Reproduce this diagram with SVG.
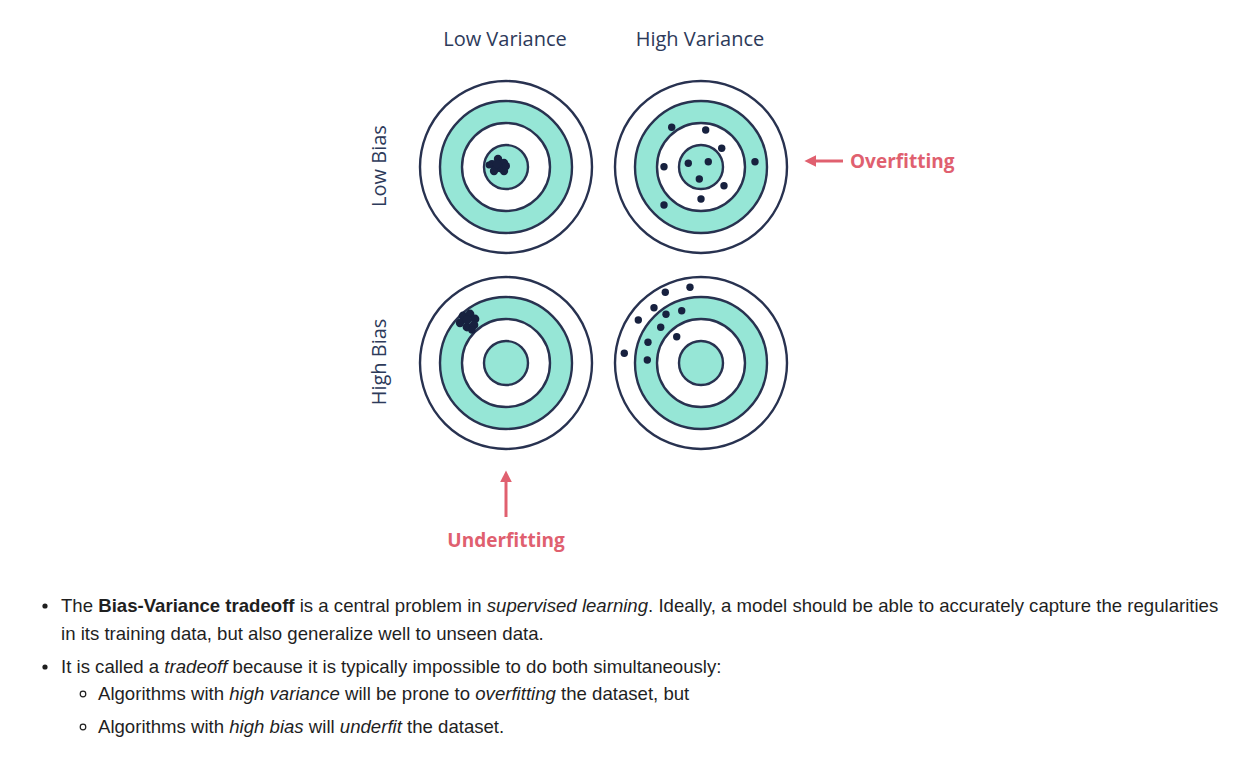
<svg xmlns="http://www.w3.org/2000/svg" width="1248" height="778" viewBox="0 0 1248 778">
<style>
.ring{stroke:#283250;stroke-width:2.4}
.w{fill:#ffffff}
.t{fill:#96e6d6}
.d{fill:#17213f}
.lab{font-family:"Open Sans",sans-serif;font-size:20px;fill:#2d3a5a}
.red{font-family:"Open Sans",sans-serif;font-size:19px;font-weight:bold;fill:#e0606f}
.body{font-family:"Liberation Sans",Arial,sans-serif;font-size:18.6px;fill:#1f1f1f}
</style>
<defs>
<g id="target">
<circle r="86" class="ring w"/>
<circle r="66" class="ring t"/>
<circle r="44" class="ring w"/>
<circle r="22" class="ring t"/>
</g>
<marker id="ah" viewBox="0 0 10 10" refX="2" refY="5" markerWidth="4" markerHeight="4" orient="auto-start-reverse" markerUnits="strokeWidth">
<path d="M0,0 L10,5 L0,10 z" fill="#e0606f"/>
</marker>
</defs>
<rect width="1248" height="778" fill="#ffffff"/>
<text class="lab" x="505" y="46" text-anchor="middle">Low Variance</text>
<text class="lab" x="700" y="46" text-anchor="middle">High Variance</text>
<text class="lab" transform="translate(386,166) rotate(-90)" text-anchor="middle">Low Bias</text>
<text class="lab" transform="translate(386,362) rotate(-90)" text-anchor="middle">High Bias</text>
<g id="t-lowbias-lowvar">
<use href="#target" x="506" y="167"/>
<g class="d">
<circle cx="498" cy="159" r="4.2"/><circle cx="492" cy="164" r="4"/><circle cx="504" cy="163" r="4.2"/>
<circle cx="500" cy="168" r="4.2"/><circle cx="494" cy="171" r="4.2"/><circle cx="504" cy="171" r="4.2"/>
<circle cx="506" cy="166" r="4"/><circle cx="497" cy="164" r="4.2"/><circle cx="489" cy="165" r="3.4"/>
</g>
</g>
<g id="t-lowbias-highvar">
<use href="#target" x="701" y="167"/>
<g class="d">
<circle cx="671.7" cy="127.3" r="3.7"/><circle cx="705.7" cy="130" r="3.7"/><circle cx="721.7" cy="148.3" r="3.7"/>
<circle cx="664" cy="166.7" r="3.7"/><circle cx="688.3" cy="163.3" r="3.7"/><circle cx="708.3" cy="161.7" r="3.7"/>
<circle cx="755" cy="161.7" r="3.7"/><circle cx="699.3" cy="179" r="3.7"/><circle cx="724" cy="185.7" r="3.7"/>
<circle cx="664" cy="205" r="3.7"/><circle cx="701" cy="199" r="3.7"/>
</g>
</g>
<g id="t-highbias-lowvar">
<use href="#target" x="506" y="363"/>
<g class="d">
<circle cx="463" cy="316" r="4.4"/><circle cx="470" cy="314" r="4.4"/><circle cx="475" cy="319" r="4.4"/>
<circle cx="460" cy="323" r="4.2"/><circle cx="467" cy="327" r="4.4"/><circle cx="474" cy="325" r="4.4"/>
<circle cx="472" cy="330" r="3.8"/><circle cx="467" cy="320" r="4.4"/>
</g>
</g>
<g id="t-highbias-highvar">
<use href="#target" x="701" y="363"/>
<g class="d">
<circle cx="690" cy="287.3" r="3.7"/><circle cx="665.3" cy="292.3" r="3.7"/><circle cx="654" cy="307.7" r="3.7"/>
<circle cx="681.7" cy="310.7" r="3.7"/><circle cx="638.3" cy="320" r="3.7"/><circle cx="666" cy="314.3" r="3.7"/>
<circle cx="660.7" cy="327.3" r="3.7"/><circle cx="676.7" cy="336.7" r="3.7"/><circle cx="648" cy="342.3" r="3.7"/>
<circle cx="624.3" cy="353.3" r="3.7"/><circle cx="647.3" cy="360" r="3.7"/>
</g>
</g>
<g id="connectors" stroke="#e0606f" stroke-width="3" fill="none">
<line x1="843" y1="161" x2="814" y2="161" marker-end="url(#ah)"/>
<line x1="506" y1="517" x2="506" y2="480" marker-end="url(#ah)"/>
</g>
<text class="red" x="850" y="168">Overfitting</text>
<text class="red" x="506" y="547" text-anchor="middle">Underfitting</text>
<g class="body">
<circle cx="45" cy="606" r="2.6" fill="#1f1f1f"/>
<text x="61" y="612">The <tspan font-weight="bold">Bias-Variance tradeoff</tspan> is a central problem in <tspan font-style="italic">supervised learning</tspan>. Ideally, a model should be able to accurately capture the regularities</text>
<text x="61" y="640">in its training data, but also generalize well to unseen data.</text>
<circle cx="45" cy="667" r="2.6" fill="#1f1f1f"/>
<text x="61" y="673">It is called a <tspan font-style="italic">tradeoff</tspan> because it is typically impossible to do both simultaneously:</text>
<circle cx="83" cy="694" r="2.8" fill="none" stroke="#1f1f1f" stroke-width="1.2"/>
<text x="98" y="700">Algorithms with <tspan font-style="italic">high variance</tspan> will be prone to <tspan font-style="italic">overfitting</tspan> the dataset, but</text>
<circle cx="83" cy="727" r="2.8" fill="none" stroke="#1f1f1f" stroke-width="1.2"/>
<text x="98" y="733">Algorithms with <tspan font-style="italic">high bias</tspan> will <tspan font-style="italic">underfit</tspan> the dataset.</text>
</g>
</svg>
